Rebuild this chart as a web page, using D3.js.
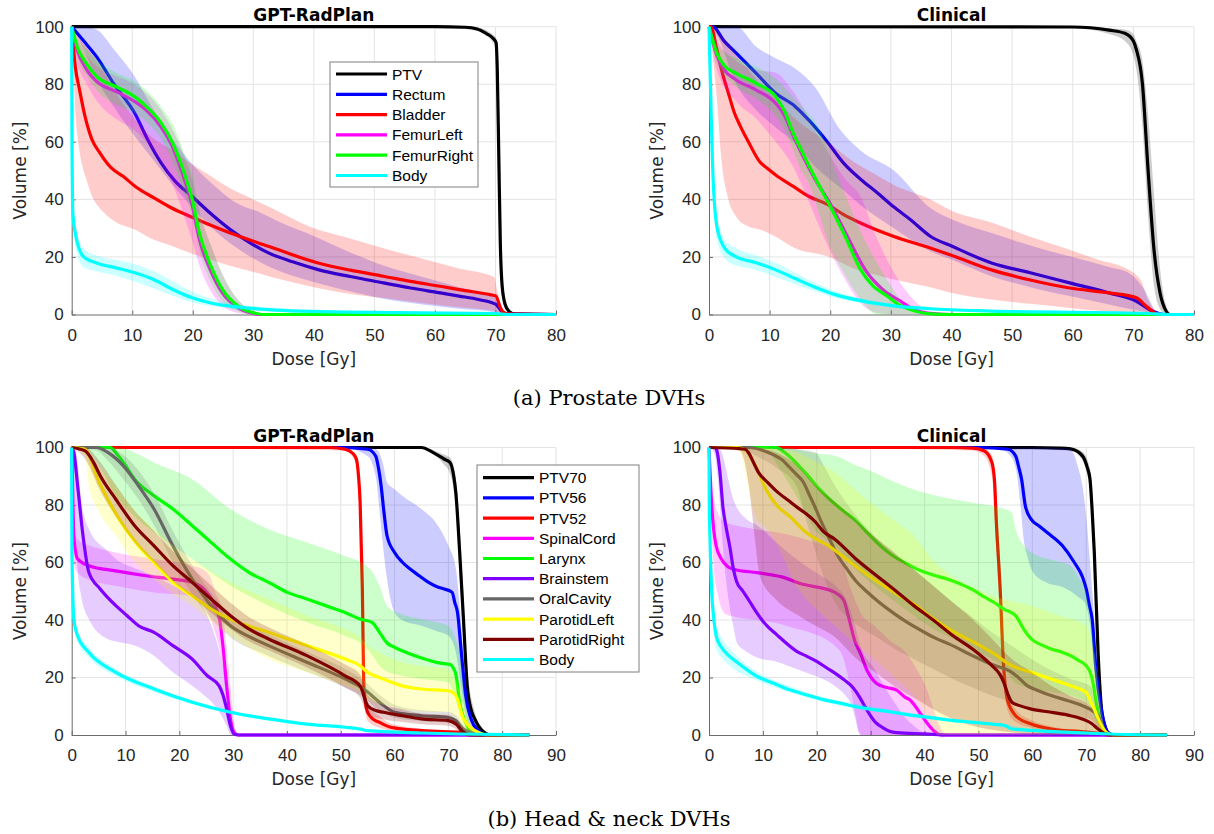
<!DOCTYPE html>
<html>
<head>
<meta charset="utf-8">
<script src="https://cdn.jsdelivr.net/npm/d3@7"></script>
<style>
  body { margin: 0; background: #fff; }
</style>
</head>
<body>
<div id="chart"></div>
<script>
// ---------- shared labels ----------
const proNames = ["PTV", "Rectum", "Bladder", "FemurLeft", "FemurRight", "Body"];
const hnNames = ["PTV70", "PTV56", "PTV52", "SpinalCord", "Larynx", "Brainstem", "OralCavity", "ParotidLeft", "ParotidRight", "Body"];
const proTicksX = [0, 10, 20, 30, 40, 50, 60, 70, 80];
const hnTicksX = [0, 10, 20, 30, 40, 50, 60, 70, 80, 90];
const ticksY = [0, 20, 40, 60, 80, 100];

// ---------- Prostate, GPT-RadPlan  (lines: [dose, vol], bands: [dose, lo, hi]) ----------
const pgPTV = [[0,100],[60,100],[65,99.8],[67,99.2],[68.5,97.6],[69.6,96],[70.1,94.5],[70.3,85],[70.55,55],[70.8,25],[71.1,10],[71.6,3.5],[72.3,1],[73.2,0.1],[80,0]];
const pgPTVBand = [[0,100,100],[60,99.8,100],[67,98.5,99.6],[69.6,94.5,97.2],[70.1,91,96],[70.3,78,90],[70.55,45,65],[70.8,17,34],[71.1,6,15],[71.6,2,5.5],[72.3,0.4,1.8],[73.2,0,0.3],[80,0,0]];
const pgRectum = [[0,100],[2,95],[4.1,89.6],[7,80],[10.4,70],[12.5,61],[14.8,52.6],[17,46.5],[19.9,41],[23,35],[26.2,29.5],[29.4,25],[32.5,21.4],[36.5,18.3],[40.7,15.6],[46,13.2],[51.5,11],[56,9.2],[60.9,7.5],[64,6.4],[67.2,5.2],[70.1,3.5],[70.5,2.5],[71,1.2],[72,0.2],[80,0]];
const pgRectumBand = [[0,100,100],[2,92,100],[4.1,82,99],[7,72,92],[10.4,62,82.7],[13,55,73],[16.7,45,60.7],[20,37,52],[23.7,29,44.5],[27,23.5,39],[31.3,18,35.3],[35,14.5,31.5],[38.8,12,28.3],[45,8.5,22.5],[51.5,5.5,17],[58,3.5,13],[64,2,9.5],[69.8,0.8,6.2],[70.6,0.3,3],[71.5,0,0.8],[73,0,0],[80,0,0]];
const pgBladder = [[0,100],[0.6,86],[1.3,78],[2.2,68.8],[3.3,61],[4.7,56],[6.5,51],[8.5,48],[10.5,44.5],[13.6,40.5],[16.5,37],[19.9,33.8],[23,31],[26.2,28.3],[32.5,23.7],[40.7,17.9],[46,15.4],[51.5,13.3],[56,11.5],[60.9,9.8],[65,8.3],[69.1,6.9],[70.1,6.4],[70.7,3],[71.2,1],[72,0.2],[80,0]];
const pgBladderBand = [[0,100,100],[0.9,63,97],[2.8,44.5,92],[5.4,35.3,84],[7,32.5,78],[10.4,29.5,68],[13,26.5,62],[16.7,23.7,57],[20,21,52],[23,19,48],[26,17,44],[30,14.8,40],[32.5,13.3,37.5],[40,9.5,30],[45,7.5,27],[51.5,5.7,23],[57.8,4,19.5],[64,2.5,16],[69.8,1.2,13],[70.3,1,8],[71,0.3,2],[72,0,0.3],[80,0,0]];
const pgFemL = [[0,100],[0.9,92],[2.5,85],[4.1,81],[7.3,77.5],[10.4,74],[12.3,71],[14.8,65],[16.7,58],[18.6,47],[19.9,38],[21.1,26],[23,15],[24.9,7.5],[27.5,2.3],[30,0.4],[31,0],[80,0]];
const pgFemLBand = [[0,100,100],[0.9,88,96],[2.5,80,90],[5,72,85],[7.3,68,83],[10.4,64,80],[12.3,60,77],[14.8,53,71],[16.7,45,64],[18.6,34,55],[20,25,46],[21.1,17,36],[23,8,24],[24.9,3,14],[27.5,0.5,5],[30,0,1],[31,0,0],[80,0,0]];
const pgFemR = [[0,100],[0.9,93],[2.5,87],[4.1,82.7],[7.3,79.2],[10.4,75.7],[12.3,72.3],[14.8,66.5],[16.7,59.5],[18.6,49],[19.9,40],[21.1,28.3],[23,16.8],[24.9,8.7],[27.5,2.9],[30,0.6],[31.5,0],[80,0]];
const pgFemRBand = [[0,100,100],[0.9,90,96],[2.5,83,92],[5,76,87],[7.3,73,84],[10.4,70,81],[12.3,67,78],[14.8,61,72],[16.7,53,66],[18.6,42,56],[20,33,48],[21.1,22,36],[23,11,24],[24.9,4.5,14],[27.5,1,5],[30,0,1.2],[32,0,0],[80,0,0]];
const pgBody = [[0,100],[0.05,60],[0.2,35],[0.6,28.3],[1.9,20.2],[4.1,17.9],[7.3,16.2],[10.4,14.5],[13.6,12.1],[16.7,8.7],[19.9,5.8],[23,4],[26.2,2.9],[32.5,1.7],[45,0.8],[70,0.35],[72,0],[80,0]];
const pgBodyBand = [[0,100,100],[0.05,55,65],[0.2,30,40],[0.6,24,32],[1.9,16.5,23],[4.1,15,20.5],[7.3,13.5,19],[10.4,11.5,17.5],[13.6,9,15],[16.7,6.5,11.5],[19.9,4.2,8],[23,3,5.5],[26.2,2,4],[32.5,1,2.5],[45,0.4,1.2],[70,0.1,0.6],[72,0,0],[80,0,0]];

// ---------- Prostate, Clinical ----------
const pcPTV = [[0,100],[60,99.9],[66,98.8],[68.6,97.7],[70,95],[70.5,92],[71.5,80],[72.4,51],[73.4,22.5],[74.4,7.5],[75.4,1.2],[76,0],[80,0]];
const pcPTVBand = [[0,100,100],[60,99.5,100],[66,97.5,99.5],[68.6,95,99],[70,90,97.5],[70.5,85,95],[71.5,65,88],[72.4,35,70],[73.4,10,42],[74.4,2,16],[75.4,0,3],[76,0,0.5],[80,0,0]];
const pcRectum = [[0,100],[0.6,100],[2.5,95],[4.5,90.8],[7.8,83.8],[11,76.9],[14.2,72.3],[16.7,67],[19.5,60],[22.2,52.6],[25,47],[27.8,42.2],[30.4,37.5],[33.2,33],[36.5,27.2],[40.1,23.7],[46.6,17.9],[53,14.5],[59.5,11],[66,7.5],[70.5,4.6],[73.1,1.2],[75,0],[80,0]];
const pcRectumBand = [[0,100,100],[1.3,97,100],[4.5,80,100],[7.8,71,93],[11,65,89],[14.2,59.5,85.5],[17.5,51.4,79],[21.7,44,64],[25,38,57],[30.5,30,50],[36.5,22,37],[40.1,19,33],[46.6,13.3,28.3],[53,9.5,24],[59.5,6.4,20.2],[66,3.5,16.5],[69.2,2,14.5],[71.8,1,8.7],[73.7,0,1.2],[75,0,0],[80,0,0]];
const pcBladder = [[0,100],[0.3,100],[1.3,92],[2.2,84],[3.2,76.9],[4.2,70],[5.2,65.3],[6.5,60],[8.4,53],[9.5,51],[11,48.5],[13.9,44.5],[16.5,41],[19.6,38.2],[22,35],[25,31.8],[30.5,27.1],[36.5,23.1],[40.1,20.5],[46.6,15.5],[53,12],[59.5,9.2],[66,7.5],[70.5,5.8],[71.8,3.5],[73.1,1.2],[74,0],[80,0]];
const pcBladderBand = [[0,100,100],[1.3,75,99],[2,55,97],[3.2,40,94],[4.5,34,90],[6.5,30.6,85],[8.4,29.5,80],[11,27,75],[14.2,23,68],[19.5,20.2,60],[23.9,16,53],[27.2,14,49],[30.5,12.2,45],[36.5,9.5,40],[40.1,7.5,36],[46.6,5.2,32],[53,3.7,27],[59.5,2.3,22.5],[65,1.2,18.5],[68,0.8,16.8],[71.2,0.5,12],[72.4,0.2,5.2],[73.7,0,1.2],[75,0,0],[80,0,0]];
const pcFemL = [[0,100],[1.3,90],[2.5,85],[4.5,81.5],[7.8,78],[11,73.4],[12.5,69],[13.7,63],[15.5,55],[17.5,47],[20,38.5],[22.5,28.5],[26.1,14.5],[28.5,9],[31.6,4.6],[34,1.5],[37,0.3],[40,0],[80,0]];
const pcFemLBand = [[0,100,100],[1.3,85,95],[4.5,74,88],[7.8,68,85],[11,60,84],[13.7,52,78],[15.5,44,72],[17.5,34,64],[20,22,55],[22.5,12,47],[25,4,41],[27.8,0.5,26],[30.5,0,14.6],[33.2,0,6.4],[35.9,0,1.2],[37,0,0],[80,0,0]];
const pcFemR = [[0,100],[1.3,90.8],[2.5,86.5],[4.5,83.8],[7.8,80.3],[11,75.7],[12.5,70.5],[13.7,64],[15.5,56],[17.5,47.5],[20,37.6],[22.5,27],[25,15.6],[27,10],[29.4,6.4],[31,3.8],[33.2,1.7],[36.5,0.2],[40,0],[80,0]];
const pcFemRBand = [[0,100,100],[1.3,87,94],[4.5,79,89],[7.8,75,86],[11,69,82],[12.5,64,79],[13.7,58,76],[15,51,73],[16.7,44.5,69],[18.3,34,64],[19.5,26,58],[22.2,14.6,43],[25,5.3,29],[27.8,0,17.6],[30.5,0,8.4],[32,0,3.8],[33.7,0,1],[35,0,0],[80,0,0]];
const pcBody = [[0,100],[0.3,74.6],[0.6,51.4],[1.3,30.6],[2.6,23],[4.5,20],[7.8,18],[11,15.5],[14.2,12.5],[17.5,9.5],[20.7,7],[25,4.8],[30.5,3],[36.5,2],[46.6,1.2],[72.4,0.35],[76,0],[80,0]];
const pcBodyBand = [[0,100,100],[0.3,70,79],[0.6,46,56],[1.3,26,35],[2.6,19.5,26],[4.5,17,23],[7.8,15.5,20.5],[11,13,18],[14.2,10.5,14.5],[17.5,8,11],[20.7,5.8,8.2],[25,4,5.7],[30.5,2.4,3.6],[36.5,1.5,2.5],[46.6,0.8,1.6],[72.4,0.1,0.6],[76,0,0],[80,0,0]];

// ---------- Head & neck, GPT-RadPlan ----------
const hgPTV70 = [[0,100],[60,100],[65,100],[67.1,98.3],[69.2,96],[70.3,94.8],[71,90],[71.4,84],[72.1,63.5],[72.8,40.3],[73.5,17.1],[74.2,9],[74.9,5.6],[76.3,1.5],[78,0],[85,0]];
const hgPTV70Band = [[0,100,100],[65,99.5,100],[69.2,94,97.5],[70.3,91,96.5],[71.4,78,89],[72.1,55,72],[72.8,32,49],[73.5,12,24],[74.9,3,8],[76.3,0.5,2.5],[78,0,0.3],[85,0,0]];
const hgPTV56 = [[0,100],[50,100],[55,99.4],[56.5,97],[57,93],[57.5,86.7],[58,78],[58.6,69.3],[60,63.5],[61.5,60],[62.9,57.7],[64.5,55.5],[66.4,53],[68,51.5],[69.2,50.8],[70.7,49.6],[71.2,46],[71.7,42.6],[72.4,28.7],[73.2,13.7],[74.2,5.6],[75.6,1.5],[77,0],[85,0]];
const hgPTV56Band = [[0,100,100],[50,100,100],[55,97,100],[56.5,90,99.5],[57.2,78,98],[57.9,65,94],[58.6,54.2,87.8],[60,42.6,85.5],[61.4,40,83.2],[65,38,78.6],[68,36,73],[70,34.5,65.8],[71.4,28.7,57.7],[72.1,20,45],[72.8,11.4,28.7],[73.5,5,15],[74.5,1.5,6],[76,0,1.5],[77,0,0],[85,0,0]];
const hgPTV52 = [[0,100],[48,100],[50.8,99.4],[52.2,98],[52.9,96],[53.3,90],[53.6,80.9],[54,51.9],[54.3,17.1],[54.6,11],[55,7.9],[56,5.5],[57.2,4.4],[59.3,2.7],[65,1.5],[72.1,0.9],[76.3,0.3],[77,0],[85,0]];
const hgPTV52Band = [[0,100,100],[50.8,99,100],[52.9,94,97.5],[53.6,70,88],[54,40,62],[54.3,12,24],[55,5,11],[57.2,2.5,6.5],[59.3,1.5,4],[65,0.8,2.2],[72.1,0.4,1.4],[76.3,0,0.6],[77,0,0],[85,0,0]];
const hgCord = [[0,100],[0.2,85],[0.4,69.3],[1.1,61.2],[3.2,58.9],[8.2,57.1],[13.8,55.4],[18.8,54.2],[22.4,53.1],[24.5,50.8],[26.6,45],[27.5,40],[28.1,31],[28.8,17.1],[29.5,5.6],[30.2,0.9],[31,0],[85,0]];
const hgCordBand = [[0,100,100],[0.4,60,80],[1.1,56.5,68.1],[3.2,54,66],[8.2,51.9,63.5],[15.3,49.6,61.2],[22.4,48.4,58.9],[24.5,45,57.5],[25.9,40,54.2],[26.6,36,50],[28.1,23,42.6],[28.8,12,30],[29.5,4,17.1],[30.2,0,4],[31,0,0],[85,0,0]];
const hgLarynx = [[0,100],[7.1,100],[8.5,97.5],[9.6,94.8],[11.7,89],[15.3,83.2],[18.8,78.6],[22.4,72.8],[25.9,67],[29.5,61.2],[33,56.5],[36.6,53.1],[40.1,49.6],[43.7,47.3],[47.2,45],[50.8,42.6],[53.6,40.3],[55.8,39.2],[57.2,35.7],[58.6,32],[60,30.5],[61.4,29.3],[65,26.8],[68.5,25],[70.3,24.5],[71,23],[71.4,21],[72.1,11.4],[73.5,3.2],[75,0],[85,0]];
const hgLarynxBand = [[0,100,100],[4.6,95,100],[8.2,83.2,100],[11.7,76,98.3],[15.3,70.5,94.8],[22.4,61.2,89],[29.5,51.9,78.6],[36.6,45,71.6],[43.7,39.2,67],[50.8,34.5,62.3],[54.3,31.1,59.5],[55.8,28,57],[57.2,24.1,51.9],[58.6,22,45],[61.4,20.6,42],[65,19.5,40.3],[70,18.3,38],[71.4,12,33],[72.1,7.9,28.7],[73.2,3,11.4],[74.5,0,2],[76,0,0],[85,0,0]];
const hgBrain = [[0,100],[0.4,98.3],[1.1,86.7],[2.1,69.3],[3.2,56.5],[5.3,50.8],[8.2,45],[10.3,41.5],[12.4,38],[15.3,35.7],[18.8,31.1],[22.4,26.4],[25.2,20.6],[27.4,17.1],[28.1,14],[28.8,9],[29.5,3.2],[30.2,0.3],[31,0],[85,0]];
const hgBrainBand = [[0,100,100],[0.4,90,100],[1.1,57.7,95],[1.8,48,80.9],[3.2,40.3,71.6],[6.7,33.4,64],[8.2,32.5,61.2],[11.7,31.1,58],[15.3,27.6,55.4],[18.8,21.8,52],[22.4,17.1,48.4],[24.5,14,44],[26.6,10.2,34.5],[28.8,3.2,17.1],[29.5,0,8],[30.2,0,1],[31,0,0],[85,0,0]];
const hgOral = [[0,100],[4.6,100],[6.7,98.3],[9.6,93.6],[12.4,86.7],[15.3,78.6],[18.8,65.8],[22.4,54.2],[25.9,45],[29.5,38],[33,34.2],[36.6,31.1],[43.7,25.3],[50.8,19.5],[54.3,16],[57.2,11.4],[60,7.9],[65,6.7],[70,6.1],[71.4,5],[72.8,2.1],[75.6,0.3],[77,0],[85,0]];
const hgOralBand = [[0,100,100],[4.6,99,100],[6.7,95.5,100],[9.6,89,97.5],[12.4,82,92],[15.3,73,84],[18.8,60,71],[22.4,49,59],[25.9,40.5,49.5],[29.5,34,42],[36.6,27.5,35],[43.7,22,29],[50.8,16.5,23],[54.3,13,19],[57.2,8.5,14],[60,6,10.5],[65,4.8,8.6],[70,4.2,8],[71.4,3.2,7],[72.8,1,3.5],[75.6,0,0.8],[77,0,0],[85,0,0]];
const hgParL = [[0,100],[2.5,99.4],[3.5,96],[4.6,90.2],[6.7,82],[9.6,72.8],[12.4,65.8],[15.3,60],[18.8,53.1],[22.4,48.4],[25.9,43.8],[29.5,40.3],[36.6,35.7],[43.7,31.1],[50.8,26.4],[53.6,24.1],[55,21.8],[57.9,19.5],[61.4,17.1],[65,16],[70,15.4],[71.4,13.7],[72.8,5.6],[75.6,0.9],[77,0],[85,0]];
const hgParLBand = [[0,100,100],[2.5,97,100],[3.2,86.7,98.3],[5,78,94],[8.2,69.3,86.7],[11.7,60,78],[15.3,54.2,71.6],[18.8,49,66],[22.4,45,61.2],[25.9,39.5,57],[29.5,34.5,53.1],[36.6,26.4,47.3],[43.7,21.8,41.5],[50.8,17.1,36.8],[53.6,15,34],[55,12.5,31.1],[57.9,10.5,28],[61.4,9,25.3],[65,8.3,24],[70,7.9,23],[71.4,6,19],[72.8,2.1,11.4],[74.5,0.3,3],[76,0,0.5],[77,0,0],[85,0,0]];
const hgParR = [[0,100],[2.5,98.8],[4,95],[5.3,90.2],[8.2,82],[11.7,72.8],[15.3,65.8],[18.8,58.9],[22.4,53.1],[25.9,47.3],[29.5,41.5],[33,36.8],[36.6,33.4],[43.7,27.6],[50.8,20.6],[53.6,17.1],[55,10.2],[56.5,8.5],[57.9,7.9],[61.4,6.7],[65,5.6],[70,5],[71.4,3.8],[72.8,0.9],[74,0],[85,0]];
const hgParRBand = [[0,100,100],[2.5,96,100],[5.3,85,95],[8.2,76,87],[11.7,67,78],[15.3,60,71],[18.8,53.5,64],[22.4,48,58],[25.9,42.5,52],[29.5,37,46],[33,32.5,41],[36.6,29.5,37.5],[43.7,23.5,31.5],[50.8,16.5,24.5],[53.6,13,21],[55,7,14],[57.9,5.5,10.5],[61.4,4.5,9],[65,3.7,7.5],[70,3.2,7],[71.4,2,5.5],[72.8,0.2,2],[74,0,0.3],[85,0,0]];
const hgBody = [[0,100],[0.02,80],[0.05,63.5],[0.4,40.3],[1.1,34.5],[3.2,28.7],[8.2,21.8],[15.3,16],[22.4,11.4],[29.5,7.9],[36.6,5.6],[43.7,3.8],[50.8,2.7],[53.6,2.1],[55,1.5],[65,0.7],[72.1,0.35],[85,0]];
const hgBodyBand = [[0,100,100],[0.05,60,67],[0.4,38,42.5],[1.1,32.5,36.5],[3.2,27,30.5],[8.2,20.5,23],[15.3,15,17],[22.4,10.7,12.1],[29.5,7.3,8.5],[36.6,5.1,6.1],[43.7,3.4,4.2],[50.8,2.4,3],[55,1.2,1.8],[65,0.5,0.9],[72.1,0.2,0.5],[85,0,0]];

// ---------- Head & neck, Clinical ----------
const hcPTV70 = [[0,100],[60,100],[65,99.8],[67.1,99.5],[69.3,97.1],[70.2,93],[70.7,89],[71.1,78],[71.5,63.5],[72.2,28.7],[72.9,7.9],[73.5,3],[74,0.9],[75,0],[85,0]];
const hcPTV70Band = [[0,100,100],[67.1,99,100],[69.3,95.5,98.5],[70.7,85,92.5],[71.5,55,71],[72.2,22,36],[72.9,5,12],[74,0.3,2],[75,0,0],[85,0,0]];
const hcPTV56 = [[0,100],[50,100],[55.5,99.4],[56.9,97.1],[57.5,93],[58,89],[58.7,79.7],[59.8,75],[61.2,72.8],[62.7,70.5],[65.6,65.8],[67.8,60],[69.3,55],[70,50.8],[70.6,45],[71.1,40.3],[71.8,23],[72.9,7.9],[74,0.9],[75,0],[85,0]];
const hcPTV56Band = [[0,100,100],[54,99.5,100],[55.5,98,100],[56.9,93,100],[57.8,80,100],[58.4,68,100],[59.1,62,100],[60,57,100],[62.7,53,100],[65.6,51.5,99.8],[67.1,50,99.4],[68.5,48,93],[69.3,47,86.7],[70,45,76],[70.7,38,60],[71.5,23,40.3],[72.2,10,20],[72.9,3,7],[73.7,0,0.9],[75,0,0],[85,0,0]];
const hcPTV52 = [[0,100],[45,100],[48.9,99.8],[51.1,98.8],[52.5,94.8],[53,88],[53.3,75],[54,51.9],[54.7,23],[55.2,14],[55.5,11.4],[56.2,8.5],[56.9,6.7],[59.8,3.8],[63.5,2.1],[70.7,0.9],[73,0.3],[74,0],[85,0]];
const hcPTV52Band = [[0,100,100],[48.9,99,100],[51.1,97,99.5],[52.5,90,97.5],[53.3,65,84],[54,42,61],[54.7,17,30],[55.5,8,15],[56.9,4.5,9],[59.8,2.5,5.2],[63.5,1.2,3],[70.7,0.4,1.4],[74,0,0],[85,0,0]];
const hcCord = [[0,100],[0.5,80],[1.3,66],[2.3,61.2],[3.5,58.5],[5.1,57.4],[8.9,56.5],[11.9,55.6],[13.5,55],[16.9,52.7],[19.8,51.5],[21.2,51],[23.7,49.2],[25,46.9],[26.2,38.8],[27,33],[28.1,28.4],[29.3,22.6],[31.1,17.9],[33,16.5],[34.8,15.6],[36.5,13],[37.3,12.2],[39.2,7.5],[41,2.9],[42.4,0.5],[43,0],[85,0]];
const hcCordBand = [[0,100,100],[0.5,70,88],[1.5,50,78],[3.1,42,74],[5.2,41,72.8],[8.9,40,71.5],[12.5,39,70.5],[16.2,37,69],[19.8,35,67],[22,33,66],[23.4,31,65],[24.9,27,60],[25.6,22,55],[26.5,14,50],[27.3,6,46],[27.8,1,44],[28.3,0,42],[30.7,0,38],[33.5,0,33],[36.5,0,28.7],[38.5,0,23],[40.2,0,17],[41.5,0,10],[43.1,0,2],[44,0,0],[85,0,0]];
const hcLarynx = [[0,100],[12.5,100],[13.5,99],[15,96.8],[16.5,94],[18,91],[20.5,85.5],[22.4,82],[24.9,78],[27.3,74.5],[29.3,70.5],[32.3,65],[34.4,62],[36.6,59.7],[38.5,57.8],[41,56],[44.6,54],[46.7,52.5],[49,50.5],[51.1,48],[53,46],[54.7,43.8],[56.9,41.5],[57.6,39.5],[58.4,36.8],[59.8,33.4],[61.5,31.5],[63.5,29.9],[65.5,28.8],[67.1,27.6],[68.5,26],[70,24.1],[70.7,22],[71.1,19.5],[72.2,7.9],[73.7,0.9],[75,0],[85,0]];
const hcLarynxBand = [[0,100,100],[10,100,100],[11.1,98.3,100],[13,93,100],[16.2,83.2,99.4],[19.8,71,98],[23.4,65.8,97.1],[27,58,94],[30.7,51.9,91.3],[34.4,46.5,88],[38,41.5,85.4],[41.6,37,83.5],[45.3,33.4,82],[49,29.5,80.8],[52.5,26.4,79.7],[55,23,78.5],[56.2,19.5,77.4],[56.9,18,71.6],[58.4,17,66],[59.8,16,63.5],[63.5,15,61],[67.1,13.7,58.9],[68.5,12.8,55],[70,11.4,49.6],[70.7,10,42],[71.5,6,30],[72.2,3,17.1],[72.9,1,6],[73.7,0,1],[75,0,0],[85,0,0]];
const hcBrain = [[0,100],[1,100],[1.4,99.2],[2,92],[2.6,79],[3.2,72],[3.9,65.1],[4.5,58],[5.1,53.5],[6.3,50],[7.5,46.6],[8.7,43],[10,39.6],[11,37.5],[12.5,35],[14.3,32],[16.2,29.2],[18,27.5],[19.9,25.7],[21.8,23.4],[23.7,21.1],[25.2,19],[26.7,16.5],[28,13],[28.9,10],[29.8,7.2],[31,4.2],[32.3,2.5],[33.5,1.3],[34.8,0.8],[40,0.4],[44.6,0],[85,0]];
const hcBrainBand = [[0,100,100],[1,98,100],[1.6,90,100],[2.6,65,97],[3.1,55,93],[3.8,45,87],[4.5,38,82],[5.2,32,79],[7,29,75],[8.9,27,73],[12.5,25.5,67],[16.2,23,61.2],[19.8,20.5,56.5],[23.4,17,52],[25.2,14,48],[26.5,10,42],[27.1,6,38],[27.8,1,33],[28.3,0,30],[30.7,0,23],[32.5,0,17],[34.4,0,11.4],[36.2,0,6.5],[38,0,3.2],[40,0,0.5],[41,0,0],[85,0,0]];
const hcOral = [[0,100],[7.4,100],[9.5,99.3],[11.9,97.5],[13.5,95.8],[15,93],[16.3,90.5],[17.5,88],[18.5,84],[19.5,80],[21,73.5],[22.4,68],[24,62],[25.5,58],[27.3,53.5],[29.2,50],[31.5,46.3],[33.8,43],[36.5,39.5],[39.7,36],[42,33.7],[44.6,31.6],[48.9,27.6],[52.5,24.5],[56.2,21.8],[57.7,19.5],[59.1,17.1],[61,15.5],[63.5,13.7],[66.5,12],[69.3,10.2],[70.7,9],[72.2,6.7],[73.7,0.9],[75,0],[85,0]];
const hcOralBand = [[0,100,100],[7.4,98.3,100],[8.9,97,100],[12.5,93,100],[16.2,86.7,99.5],[18,75,99],[19.8,63.5,98.3],[21.5,54,93],[23.4,46.1,86.7],[27,39,77],[30.7,34.5,69.3],[34.4,30,63],[38,26.4,57.7],[41.6,23,51.9],[45.3,19.5,46.1],[48.9,16.5,41],[52.5,13.7,35.7],[56.2,11.3,31],[59.8,9,26.4],[63.5,7.5,22.5],[67.1,6.5,19.5],[70.7,5.6,17.1],[72.2,3,10],[73.7,0,1.5],[75,0,0],[85,0,0]];
const hcParL = [[0,100],[5.2,100],[6.9,99],[7.6,97],[8.8,93],[10.7,85],[12.5,80],[15,76],[18,70.5],[22.4,65.5],[26.3,60],[30.7,54],[34.4,49.5],[38,45.5],[41.6,40.5],[45.3,36],[48.9,32.5],[52.5,28.7],[56.2,24.1],[59.8,21.8],[63.5,19.5],[67.1,17.1],[70,14.8],[71,11],[71.5,9],[72.6,4],[73.7,0.9],[75,0],[85,0]];
const hcParLBand = [[0,100,100],[5.2,99.5,100],[8.9,75,100],[10.3,72.8,100],[13,65,99.2],[16.2,51.9,98.3],[19.8,44,95],[23.4,38,91.3],[27,32,85.5],[30.7,26.4,79.7],[34.4,20,74.5],[38,13.7,69.3],[40,8,64.5],[41.6,2.1,60.5],[42.5,0,59],[45.3,0,55],[48.9,0,51.5],[52.5,0,48.5],[56.2,0,46.5],[59.8,0,45],[65,0,41.5],[70,0,38],[71.5,0,28],[72.6,0,12],[73.7,0,1],[75,0,0],[85,0,0]];
const hcParR = [[0,100],[5.7,99.6],[6.7,99.4],[7.5,97.7],[8.2,95],[9.3,91],[10.8,88],[12.4,85],[15,81.2],[16.5,79],[18,77],[19.8,74],[21.1,71],[23.4,68],[27.1,61.5],[30.7,56],[34.4,50.5],[38,45],[41.6,40],[45.3,34.5],[48.9,29.9],[52.5,24.1],[54,21],[54.7,18.3],[55.5,14],[56.2,11.4],[57.5,10.3],[59.8,9],[63.5,7.9],[67.1,6.7],[70,5],[71,4],[72.2,2.1],[73.7,0.3],[75,0],[85,0]];
const hcParRBand = [[0,100,100],[5.7,99,100],[7.4,86.7,100],[8.4,70,100],[9.5,55,99.7],[12.5,47,98.3],[16.2,42,94],[19.8,38,86.7],[23.4,34,81],[27.1,27,75],[30.7,22,69],[34.4,17,63.5],[38,13,57.5],[41.6,9,51.9],[45.3,5.5,46],[48.9,3.2,40.3],[52.5,1.8,33.5],[56.2,0.9,26.4],[59.8,0.5,22],[63.5,0.3,17.1],[67.1,0.2,13.5],[70.7,0,10.2],[72.2,0,5],[73.7,0,0.8],[75,0,0],[85,0,0]];
const hcBody = [[0,100],[0.05,82],[0.2,67],[0.5,50],[0.9,40.3],[1.4,34],[2.3,30.5],[3.9,27.2],[5.2,25.3],[8.9,20.4],[12,18],[15,15.7],[18,14],[21.2,12.3],[24.5,11],[27.3,9.8],[30.7,8.8],[33.5,8.1],[36.5,7.2],[39.7,6.4],[44.6,5.2],[48.5,4.5],[52.5,3.8],[55,3.2],[56.2,2.1],[60,1.6],[67.1,0.9],[74.4,0.35],[85,0]];
const hcBodyBand = [[0,100,100],[0.05,76,86],[0.2,61,72],[0.5,45,55],[0.9,35.5,44],[1.4,29.5,37.5],[2.3,27,34],[3.9,24,30],[8.9,19,22],[15,14.8,17],[21.2,11.5,13.2],[30.7,8.3,9.7],[44.6,4.6,5.8],[55,2.6,3.8],[60,1.2,2],[67.1,0.6,1.2],[74.4,0.1,0.6],[85,0,0]];

// ---------- styling ----------
const proColors = ["#000000", "#0000ff", "#ff0000", "#ff00ff", "#00ff00", "#00ffff"];
const hnColors = ["#000000", "#0000ff", "#ff0000", "#ff00ff", "#00ff00", "#8000ff", "#666666", "#ffff00", "#800000", "#00ffff"];
const tickFont = "'Liberation Sans', Arial, sans-serif";
const labelFont = "'DejaVu Sans', sans-serif";

const svg = d3.select("#chart").append("svg")
  .attr("width", 1214)
  .attr("height", 834)
  .style("background", "#fff");

function drawPanel(p) {
  const x = d3.scaleLinear().domain([0, p.xmax]).range([p.left, p.right]);
  const y = d3.scaleLinear().domain([0, 100]).range([p.bottom, p.top]);
  const g = svg.append("g");

  // grid
  g.append("g").selectAll("line").data(p.xticks.slice(1)).join("line")
    .attr("x1", d => x(d)).attr("x2", d => x(d))
    .attr("y1", p.top).attr("y2", p.bottom)
    .attr("stroke", "#e4e4e4");
  g.append("g").selectAll("line").data(ticksY.slice(1)).join("line")
    .attr("x1", p.left).attr("x2", p.right)
    .attr("y1", d => y(d)).attr("y2", d => y(d))
    .attr("stroke", "#e4e4e4");

  // axes
  const xa = g.append("g").attr("transform", `translate(0,${p.bottom})`)
    .call(d3.axisBottom(x).tickValues(p.xticks).tickSizeInner(-4).tickSizeOuter(0).tickPadding(14));
  const ya = g.append("g").attr("transform", `translate(${p.left},0)`)
    .call(d3.axisLeft(y).tickValues(ticksY).tickSizeInner(-4).tickSizeOuter(0).tickPadding(8));
  [xa, ya].forEach(a => {
    a.attr("font-size", 17).attr("font-family", tickFont);
    a.select(".domain").attr("stroke", "#6b6b6b");
    a.selectAll(".tick line").attr("stroke", "#6b6b6b");
    a.selectAll(".tick text").attr("fill", "#262626");
  });

  // bands + lines, one structure after another
  const band = d3.area().x(d => x(d[0])).y0(d => y(d[1])).y1(d => y(d[2])).curve(d3.curveMonotoneX);
  const line = d3.line().x(d => x(d[0])).y(d => y(d[1])).curve(d3.curveMonotoneX);
  p.lines.forEach((ln, i) => {
    g.append("path").datum(p.bands[i])
      .attr("d", band)
      .attr("fill", p.colors[i])
      .attr("fill-opacity", 0.2)
      .attr("stroke", "none");
    g.append("path").datum(ln)
      .attr("d", line)
      .attr("fill", "none")
      .attr("stroke", p.colors[i])
      .attr("stroke-width", 3.2)
      .attr("stroke-linejoin", "round");
  });

  // title + axis labels
  const cx = (p.left + p.right) / 2;
  g.append("text").attr("x", cx).attr("y", p.top - 6)
    .attr("text-anchor", "middle")
    .style("font", `bold 17px ${labelFont}`)
    .text(p.title);
  g.append("text").attr("x", cx).attr("y", p.bottom + 50)
    .attr("text-anchor", "middle").attr("fill", "#262626")
    .style("font", `17px ${labelFont}`)
    .text("Dose [Gy]");
  g.append("text")
    .attr("transform", `translate(${p.left - 52},${(p.top + p.bottom) / 2}) rotate(-90)`)
    .attr("text-anchor", "middle").attr("dominant-baseline", "central").attr("fill", "#262626")
    .style("font", `17px ${labelFont}`)
    .text("Volume [%]");
}

function drawLegend(names, colors, box) {
  const g = svg.append("g");
  g.append("rect")
    .attr("x", box.x).attr("y", box.y).attr("width", box.w).attr("height", box.h)
    .attr("fill", "#fff").attr("stroke", "#7f7f7f").attr("stroke-width", 1);
  const row = g.selectAll("g.row").data(names).join("g")
    .attr("transform", (d, i) => `translate(0,${box.first + i * box.step})`);
  row.append("line")
    .attr("x1", box.x + 6).attr("x2", box.x + 57)
    .attr("stroke", (d, i) => colors[i]).attr("stroke-width", 3.2);
  row.append("text")
    .attr("x", box.x + 62).attr("dominant-baseline", "central")
    .style("font", `15.5px ${tickFont}`).attr("fill", "#000")
    .text(d => d);
}

drawPanel({ left: 71.7, right: 556, top: 26.7, bottom: 314.5, xmax: 80, xticks: proTicksX, title: "GPT-RadPlan",
  lines: [pgPTV, pgRectum, pgBladder, pgFemL, pgFemR, pgBody],
  bands: [pgPTVBand, pgRectumBand, pgBladderBand, pgFemLBand, pgFemRBand, pgBodyBand], colors: proColors });
drawPanel({ left: 709, right: 1194, top: 26.7, bottom: 314.5, xmax: 80, xticks: proTicksX, title: "Clinical",
  lines: [pcPTV, pcRectum, pcBladder, pcFemL, pcFemR, pcBody],
  bands: [pcPTVBand, pcRectumBand, pcBladderBand, pcFemLBand, pcFemRBand, pcBodyBand], colors: proColors });
drawLegend(proNames, proColors, { x: 330, y: 62, w: 148, h: 125, first: 74, step: 20.3 });

drawPanel({ left: 71.7, right: 556, top: 447.5, bottom: 735, xmax: 90, xticks: hnTicksX, title: "GPT-RadPlan",
  lines: [hgPTV70, hgPTV56, hgPTV52, hgCord, hgLarynx, hgBrain, hgOral, hgParL, hgParR, hgBody],
  bands: [hgPTV70Band, hgPTV56Band, hgPTV52Band, hgCordBand, hgLarynxBand, hgBrainBand, hgOralBand, hgParLBand, hgParRBand, hgBodyBand], colors: hnColors });
drawPanel({ left: 709, right: 1194, top: 447.5, bottom: 735, xmax: 90, xticks: hnTicksX, title: "Clinical",
  lines: [hcPTV70, hcPTV56, hcPTV52, hcCord, hcLarynx, hcBrain, hcOral, hcParL, hcParR, hcBody],
  bands: [hcPTV70Band, hcPTV56Band, hcPTV52Band, hcCordBand, hcLarynxBand, hcBrainBand, hcOralBand, hcParLBand, hcParRBand, hcBodyBand], colors: hnColors });
drawLegend(hnNames, hnColors, { x: 477, y: 465, w: 162, h: 207, first: 477.7, step: 20.2 });

// captions
svg.append("text").attr("x", 609).attr("y", 405).attr("text-anchor", "middle")
  .style("font", "21px 'DejaVu Serif', serif").text("(a) Prostate DVHs");
svg.append("text").attr("x", 609).attr("y", 826).attr("text-anchor", "middle")
  .style("font", "21px 'DejaVu Serif', serif").text("(b) Head & neck DVHs");
</script>
</body>
</html>
